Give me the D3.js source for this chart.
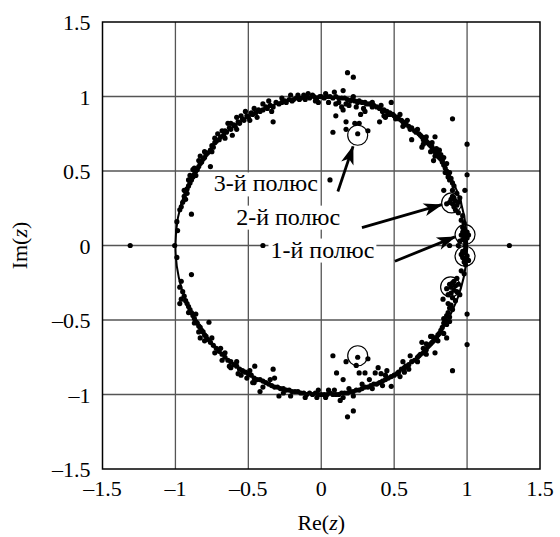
<!DOCTYPE html>
<html>
<head>
<meta charset="utf-8">
<script src="https://cdn.jsdelivr.net/npm/d3@7"></script>
<style>
  body { margin: 0; background: #fff; }
  svg text { font-family: "Liberation Serif", "Times New Roman", Tinos, "DejaVu Serif", serif; }
</style>
</head>
<body>
<div id="chart"></div>
<script>
// axis ticks
const xTicks = [-1.5, -1, -0.5, 0, 0.5, 1, 1.5];
const yTicks = [-1.5, -1, -0.5, 0, 0.5, 1, 1.5];

// estimated poles [Re, Im]
const polesUpper = [
  // near z = 1
  [0.99,0.02],[0.97,0.04],[1.0,0.05],[0.98,0.06],[0.99,0.08],[0.97,0.09],[1.0,0.09],[0.98,0.10],[0.96,0.07],[0.99,0.05],
  [0.95,0.03],[1.01,0.07],[0.97,0.12],[0.98,0.15],[0.96,0.17],[0.97,0.20],[0.88,0.0],[0.94,0.0],[0.99,0.0],
  // 2nd pole cluster
  [0.90,0.28],[0.92,0.30],[0.91,0.26],[0.89,0.31],[0.93,0.27],[0.92,0.24],[0.90,0.33],[0.88,0.29],[0.91,0.32],[0.94,0.29],
  [0.86,0.28],[0.94,0.22],[0.93,0.35],[0.90,0.37],[0.95,0.32],[0.84,0.37],[0.985,0.37],
  [0.90,0.42],[0.89,0.45],[0.87,0.48],[0.88,0.44],[0.86,0.50],[0.85,0.52],[0.84,0.54],[0.86,0.55],[0.83,0.56],[0.82,0.58],
  [1.0,0.475],[0.87,0.46],[0.91,0.40],[0.85,0.49],[0.84,0.59],[0.88,0.49],
  [0.80,0.60],[0.79,0.62],[0.81,0.59],[0.78,0.63],[0.77,0.64],[0.79,0.65],[0.76,0.66],[0.80,0.63],[0.75,0.67],[0.82,0.61],
  [0.78,0.60],[0.74,0.68],[0.73,0.69],[0.76,0.69],[0.72,0.70],[0.71,0.72],[0.70,0.71],[0.69,0.73],[0.68,0.74],[0.67,0.75],
  [0.65,0.76],[0.69,0.66],[0.62,0.71],[0.78,0.73],[1.0,0.68],[0.77,0.57],[0.83,0.57],[0.81,0.64],[0.75,0.63],[0.70,0.68],
  [0.72,0.73],[0.66,0.78],
  [0.64,0.77],[0.62,0.79],[0.60,0.80],[0.61,0.78],[0.58,0.82],[0.56,0.83],[0.57,0.81],[0.55,0.84],[0.53,0.85],[0.52,0.86],
  [0.50,0.87],[0.49,0.88],[0.51,0.85],[0.47,0.89],[0.45,0.90],[0.46,0.88],[0.43,0.91],[0.42,0.90],[0.40,0.92],[0.38,0.93],
  [0.36,0.94],[0.35,0.93],[0.48,0.96],[0.40,0.83],[0.44,0.86],[0.90,0.85],[0.47,0.88],[0.59,0.84],[0.54,0.88],[0.56,0.80],
  [0.43,0.87],[0.41,0.94],[0.35,0.96],
  [0.33,0.95],[0.31,0.95],[0.30,0.96],[0.28,0.96],[0.26,0.97],[0.25,0.96],[0.23,0.97],[0.21,0.98],[0.20,0.97],[0.18,0.98],
  [0.16,0.99],[0.14,0.99],[0.12,0.99],[0.10,1.0],[0.08,0.99],[0.06,1.0],[0.04,1.0],[0.02,0.99],[0.0,1.0],[0.29,0.92],
  [0.24,0.93],[0.19,0.94],[0.17,0.95],[0.14,0.93],[0.10,0.95],[0.05,0.96],[0.12,0.96],[0.15,1.04],[0.22,1.0],[0.09,1.03],
  [0.03,1.02],
  // scatter around the 3rd pole
  [0.08,0.76],[0.17,0.78],[0.17,0.83],[0.23,0.82],[0.26,0.82],[0.25,0.75],[0.32,0.77],[0.10,0.87],[0.15,0.91],[0.27,0.88],
  [0.30,0.90],[0.18,1.16],[0.22,1.13],[0.06,0.44],
  [-0.01,1.0],[-0.03,0.99],[-0.05,1.0],[-0.06,1.01],[-0.08,0.99],[-0.10,1.0],[-0.11,0.98],[-0.12,1.01],[-0.14,0.99],[-0.15,0.98],
  [-0.17,0.99],[-0.19,0.98],[-0.20,0.97],[-0.22,0.98],[-0.24,0.96],[-0.25,0.97],[-0.27,0.96],[-0.29,0.95],[-0.31,0.96],[-0.33,0.93],
  [-0.04,0.97],[-0.09,1.02],[-0.16,1.01],[-0.33,0.83],[-0.02,0.96],[-0.21,1.01],[-0.27,0.99],
  [-0.35,0.94],[-0.37,0.92],[-0.38,0.93],[-0.40,0.91],[-0.42,0.90],[-0.43,0.91],[-0.45,0.89],[-0.47,0.88],[-0.48,0.89],[-0.50,0.86],
  [-0.51,0.87],[-0.53,0.84],[-0.54,0.85],[-0.56,0.82],[-0.57,0.83],[-0.59,0.80],[-0.60,0.81],[-0.62,0.78],[-0.63,0.79],[-0.65,0.76],
  [-0.66,0.77],[-0.67,0.74],[-0.69,0.73],[-0.70,0.71],[-0.72,0.70],[-0.73,0.69],[-0.74,0.66],[-0.75,0.67],[-0.76,0.64],[-0.61,0.74],
  [-0.44,0.86],[-0.36,0.97],[-0.52,0.90],[-0.64,0.82],[-0.71,0.75],[-0.58,0.86],[-0.40,0.95],[-0.46,0.92],[-0.55,0.87],[-0.62,0.82],
  [-0.68,0.77],[-0.73,0.72],[-0.34,0.90],[-0.49,0.84],[-0.58,0.78],[-0.66,0.72],
  [-0.78,0.62],[-0.79,0.61],[-0.80,0.59],[-0.81,0.58],[-0.82,0.56],[-0.83,0.55],[-0.84,0.53],[-0.85,0.51],[-0.86,0.50],[-0.87,0.48],
  [-0.88,0.46],[-0.89,0.44],[-0.90,0.42],[-0.91,0.40],[-0.92,0.38],[-0.93,0.36],[-0.92,0.35],[-0.94,0.33],[-0.93,0.31],[-0.95,0.29],
  [-0.96,0.26],[-0.76,0.53],[-0.83,0.60],[-0.90,0.47],[-0.88,0.51],[-0.94,0.37],[-0.80,0.63],[-0.84,0.57],[-0.87,0.52],[-0.91,0.44],
  [-0.75,0.63],[-0.86,0.47],
  [-0.97,0.24],[-0.985,0.10],[-0.89,0.21],[-1.005,0.0],[-1.31,0.0],[-0.99,0.16],[-0.40,0.0]
];

const polesLower = [
  [0.99,-0.02],[0.98,-0.05],[1.0,-0.07],[0.97,-0.08],[0.99,-0.09],[0.98,-0.11],[0.96,-0.06],[1.01,-0.10],[0.97,-0.04],[0.99,-0.13],
  [0.96,-0.17],[0.98,-0.19],[1.29,0.0],
  [0.89,-0.28],[0.91,-0.30],[0.88,-0.26],[0.90,-0.25],[0.92,-0.27],[0.86,-0.29],[0.89,-0.32],[0.93,-0.31],[0.91,-0.24],[0.94,-0.26],
  [0.87,-0.33],[0.90,-0.35],[0.92,-0.37],[0.95,-0.33],[0.835,-0.36],[0.93,-0.22],
  [0.89,-0.40],[0.88,-0.42],[0.90,-0.43],[0.87,-0.45],[0.86,-0.47],[0.88,-0.48],[0.85,-0.50],[0.84,-0.52],[0.86,-0.53],[0.83,-0.55],
  [0.82,-0.57],[1.0,-0.46],[0.87,-0.39],[0.84,-0.49],[0.84,-0.59],[0.88,-0.51],
  [0.81,-0.59],[0.80,-0.60],[0.79,-0.62],[0.78,-0.62],[0.77,-0.64],[0.76,-0.65],[0.75,-0.66],[0.74,-0.67],[0.73,-0.68],[0.72,-0.70],
  [0.71,-0.71],[0.70,-0.72],[0.68,-0.73],[0.67,-0.74],[0.66,-0.75],[0.86,-0.62],[0.78,-0.72],[0.69,-0.65],[1.0,-0.665],[0.76,-0.61],
  [0.72,-0.66],[0.80,-0.64],[0.75,-0.61],[0.70,-0.69],[0.72,-0.73],[0.66,-0.78],
  [0.64,-0.77],[0.62,-0.78],[0.60,-0.80],[0.58,-0.81],[0.57,-0.82],[0.55,-0.83],[0.53,-0.85],[0.52,-0.86],[0.50,-0.87],[0.48,-0.88],
  [0.46,-0.89],[0.44,-0.90],[0.42,-0.91],[0.40,-0.92],[0.38,-0.93],[0.36,-0.93],[0.90,-0.84],[0.48,-0.945],[0.45,-0.84],[0.41,-0.86],
  [0.56,-0.78],[0.61,-0.74],[0.60,-0.83],[0.54,-0.88],[0.57,-0.85],[0.44,-0.87],[0.42,-0.94],[0.35,-0.96],
  [0.34,-0.94],[0.32,-0.95],[0.30,-0.95],[0.28,-0.96],[0.26,-0.97],[0.24,-0.97],[0.22,-0.98],[0.20,-0.98],[0.18,-0.99],[0.16,-0.99],
  [0.14,-0.99],[0.12,-1.0],[0.10,-1.0],[0.08,-1.0],[0.06,-0.99],[0.04,-1.0],[0.02,-1.0],[0.0,-1.0],[0.15,-1.02],[0.13,-1.04],
  [0.33,-0.90],[0.37,-0.855],[0.39,-0.82],[0.30,-0.855],[0.26,-0.855],[0.24,-0.805],[0.32,-0.76],[0.17,-0.78],[0.08,-0.74],[0.105,-0.855],
  [0.15,-0.90],[0.25,-0.75],[0.18,-1.15],[0.22,-1.11],[0.05,-0.97],[-0.02,-0.97],[0.28,-0.93],[0.19,-0.96],[0.22,-1.01],[0.09,-0.97],
  [0.03,-1.02],
  [-0.02,-1.0],[-0.04,-0.99],[-0.06,-1.0],[-0.08,-0.99],[-0.10,-1.0],[-0.12,-0.99],[-0.14,-0.99],[-0.16,-0.98],[-0.18,-0.98],[-0.20,-0.98],
  [-0.22,-0.97],[-0.24,-0.97],[-0.26,-0.96],[-0.28,-0.96],[-0.30,-0.95],[-0.32,-0.95],[-0.29,-1.01],[-0.42,-0.98],[-0.11,-1.02],[-0.03,-1.02],
  [-0.21,-1.01],[-0.26,-0.99],
  [-0.34,-0.94],[-0.36,-0.93],[-0.38,-0.92],[-0.40,-0.91],[-0.42,-0.90],[-0.44,-0.90],[-0.46,-0.89],[-0.48,-0.87],[-0.50,-0.86],[-0.52,-0.85],
  [-0.54,-0.84],[-0.56,-0.83],[-0.58,-0.81],[-0.60,-0.80],[-0.62,-0.78],[-0.64,-0.77],[-0.66,-0.75],[-0.68,-0.73],[-0.70,-0.71],[-0.72,-0.69],
  [-0.74,-0.67],[-0.76,-0.65],[-0.33,-0.83],[-0.456,-0.81],[-0.32,-0.89],[-0.47,-0.92],[-0.57,-0.86],[-0.63,-0.81],[-0.69,-0.69],[-0.51,-0.89],
  [-0.40,-0.95],[-0.46,-0.92],[-0.55,-0.87],[-0.62,-0.82],[-0.68,-0.77],[-0.73,-0.72],[-0.35,-0.90],[-0.49,-0.84],[-0.58,-0.78],[-0.66,-0.72],
  [-0.78,-0.63],[-0.79,-0.61],[-0.80,-0.60],[-0.81,-0.58],[-0.82,-0.57],[-0.83,-0.55],[-0.84,-0.54],[-0.85,-0.52],[-0.86,-0.51],[-0.87,-0.49],
  [-0.88,-0.47],[-0.89,-0.45],[-0.90,-0.43],[-0.91,-0.41],[-0.92,-0.39],[-0.93,-0.37],[-0.94,-0.34],[-0.95,-0.31],[-0.77,-0.515],[-0.83,-0.62],
  [-0.97,-0.39],[-0.96,-0.36],[-0.80,-0.64],[-0.84,-0.58],[-0.87,-0.52],[-0.91,-0.45],[-0.75,-0.62],[-0.86,-0.46],
  [-0.96,-0.24],[-0.99,-0.08],[-0.89,-0.195],[-0.97,-0.28]
];

// true poles (circled)
const truePoles = [[0.25,0.74],[0.25,-0.74],[0.894,0.286],[0.887,-0.278],[0.986,0.073],[0.986,-0.072]];

// annotations: text, text anchor point, arrow start -> arrow tip (data coords)
const labels = [
  { text: "3-й полюс", re: -0.38, im: 0.363, from: [0.114, 0.362], to: [0.218, 0.665] },
  { text: "2-й полюс", re: -0.227, im: 0.140, from: [0.279, 0.120], to: [0.826, 0.274] },
  { text: "1-й полюс", re: 0.008, im: -0.081, from: [0.505, -0.106], to: [0.917, 0.058] }
];

const W = 560, H = 537;
const x = d3.scaleLinear().domain([-1.5, 1.5]).range([102.5, 540]);
const y = d3.scaleLinear().domain([-1.5, 1.5]).range([469, 22]);

const svg = d3.select("#chart").append("svg")
    .attr("width", W)
    .attr("height", H);

svg.append("defs").append("marker")
    .attr("id", "head")
    .attr("markerUnits", "userSpaceOnUse")
    .attr("viewBox", "-20 -8 22 16")
    .attr("refX", 0).attr("refY", 0)
    .attr("markerWidth", 22).attr("markerHeight", 16)
    .attr("orient", "auto")
    .append("path")
        .attr("d", "M1,0 L-18,-6.5 L-13,0 L-18,6.5 Z")
        .attr("fill", "#000");

// grid
const grid = svg.append("g");
grid.selectAll(".gx").data(xTicks.slice(1, -1)).join("line")
    .attr("x1", d => x(d)).attr("x2", d => x(d))
    .attr("y1", y(1.5)).attr("y2", y(-1.5))
    .attr("stroke", "#555").attr("stroke-width", 1.3);
grid.selectAll(".gy").data(yTicks.slice(1, -1)).join("line")
    .attr("y1", d => y(d)).attr("y2", d => y(d))
    .attr("x1", x(-1.5)).attr("x2", x(1.5))
    .attr("stroke", "#555").attr("stroke-width", 1.3);

// label backgrounds + text
const lab = svg.append("g");
labels.forEach(l => {
    const t = lab.append("text")
        .attr("x", x(l.re)).attr("y", y(l.im))
        .attr("text-anchor", "middle")
        .attr("font-size", 24)
        .text(l.text);
    const b = t.node().getBBox();
    lab.insert("rect", "text")
        .attr("x", b.x - 2).attr("y", b.y + 2)
        .attr("width", b.width + 4).attr("height", b.height - 2)
        .attr("fill", "#fff");
});

// unit circle
svg.append("ellipse")
    .attr("cx", x(0)).attr("cy", y(0))
    .attr("rx", x(1) - x(0)).attr("ry", y(0) - y(1))
    .attr("fill", "none")
    .attr("stroke", "#000")
    .attr("stroke-width", 2);

// estimated poles
svg.append("g")
    .selectAll("circle")
    .data(polesUpper.concat(polesLower))
    .join("circle")
        .attr("cx", d => x(d[0]))
        .attr("cy", d => y(d[1]))
        .attr("r", 2.6)
        .attr("fill", "#000");

// circled true poles
svg.append("g")
    .selectAll("circle")
    .data(truePoles)
    .join("circle")
        .attr("cx", d => x(d[0]))
        .attr("cy", d => y(d[1]))
        .attr("r", 10)
        .attr("fill", "none")
        .attr("stroke", "#000")
        .attr("stroke-width", 1.2);

// arrows
svg.append("g")
    .selectAll("line")
    .data(labels)
    .join("line")
        .attr("x1", d => x(d.from[0])).attr("y1", d => y(d.from[1]))
        .attr("x2", d => x(d.to[0])).attr("y2", d => y(d.to[1]))
        .attr("stroke", "#000")
        .attr("stroke-width", 2.8)
        .attr("marker-end", "url(#head)");

// frame
svg.append("rect")
    .attr("x", x(-1.5)).attr("y", y(1.5))
    .attr("width", x(1.5) - x(-1.5)).attr("height", y(-1.5) - y(1.5))
    .attr("fill", "none")
    .attr("stroke", "#000")
    .attr("stroke-width", 1.5);

const fmt = d => String(d).replace("-", "\u2013");

// tick labels
svg.append("g").selectAll("text").data(xTicks).join("text")
    .attr("x", d => x(d))
    .attr("y", y(-1.5) + 27)
    .attr("text-anchor", "middle")
    .attr("font-size", 22)
    .text(fmt);

svg.append("g").selectAll("text").data(yTicks).join("text")
    .attr("x", x(-1.5) - 12)
    .attr("y", d => y(d) + 8)
    .attr("text-anchor", "end")
    .attr("font-size", 22)
    .text(fmt);

// axis titles
const xt = svg.append("text")
    .attr("x", x(0)).attr("y", 530)
    .attr("text-anchor", "middle")
    .attr("font-size", 22);
xt.append("tspan").text("Re(");
xt.append("tspan").attr("font-style", "italic").text("z");
xt.append("tspan").text(")");

const yt = svg.append("text")
    .attr("transform", `translate(27, ${y(0)}) rotate(-90)`)
    .attr("text-anchor", "middle")
    .attr("font-size", 22);
yt.append("tspan").text("Im(");
yt.append("tspan").attr("font-style", "italic").text("z");
yt.append("tspan").text(")");
</script>
</body>
</html>
